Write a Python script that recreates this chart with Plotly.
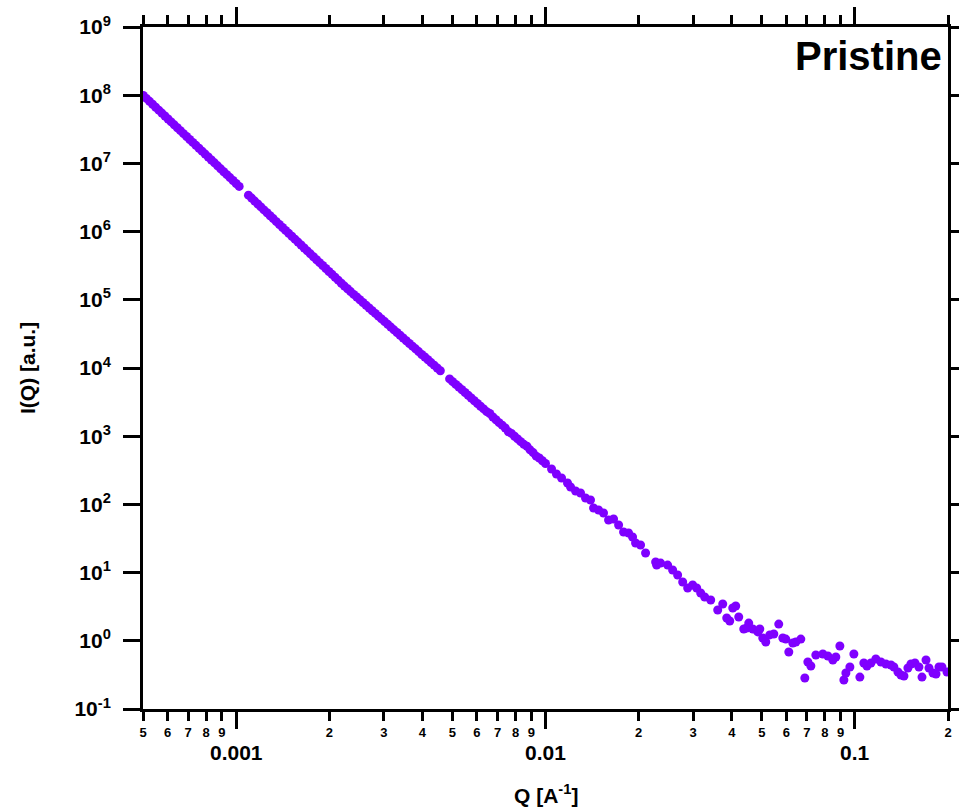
import math
import plotly.graph_objects as go

# ---- data (Q in 1/A, I in a.u.) ----
q_values = [
    5.012e-4, 5.129e-4, 5.248e-4, 5.370e-4, 5.495e-4, 5.623e-4, 5.754e-4, 5.888e-4,
    6.026e-4, 6.166e-4, 6.310e-4, 6.457e-4, 6.607e-4, 6.761e-4, 6.918e-4, 7.079e-4,
    7.244e-4, 7.413e-4, 7.586e-4, 7.762e-4, 7.943e-4, 8.128e-4, 8.318e-4, 8.511e-4,
    8.710e-4, 8.913e-4, 9.120e-4, 9.333e-4, 9.550e-4, 9.772e-4, 1.000e-3, 1.023e-3,
    1.096e-3, 1.122e-3, 1.148e-3, 1.175e-3, 1.202e-3, 1.230e-3, 1.259e-3, 1.288e-3,
    1.318e-3, 1.349e-3, 1.380e-3, 1.413e-3, 1.445e-3, 1.479e-3, 1.514e-3, 1.549e-3,
    1.585e-3, 1.622e-3, 1.660e-3, 1.698e-3, 1.738e-3, 1.778e-3, 1.820e-3, 1.862e-3,
    1.905e-3, 1.950e-3, 1.995e-3, 2.042e-3, 2.089e-3, 2.138e-3, 2.188e-3, 2.239e-3,
    2.291e-3, 2.344e-3, 2.399e-3, 2.455e-3, 2.512e-3, 2.570e-3, 2.630e-3, 2.692e-3,
    2.754e-3, 2.818e-3, 2.884e-3, 2.951e-3, 3.020e-3, 3.090e-3, 3.162e-3, 3.236e-3,
    3.311e-3, 3.388e-3, 3.467e-3, 3.548e-3, 3.631e-3, 3.715e-3, 3.802e-3, 3.890e-3,
    3.981e-3, 4.074e-3, 4.169e-3, 4.266e-3, 4.365e-3, 4.467e-3, 4.571e-3,
    4.898e-3, 5.012e-3, 5.129e-3, 5.248e-3, 5.370e-3, 5.495e-3, 5.623e-3, 5.754e-3,
    5.888e-3, 6.026e-3, 6.166e-3, 6.310e-3, 6.457e-3, 6.607e-3, 6.761e-3, 6.918e-3,
    7.079e-3, 7.244e-3, 7.413e-3, 7.586e-3, 7.762e-3, 7.943e-3, 8.128e-3, 8.318e-3,
    8.511e-3, 8.710e-3, 8.913e-3, 9.120e-3, 9.333e-3, 9.550e-3, 9.772e-3, 1.000e-2,
    0.01046, 0.01085, 0.01127, 0.01178, 0.01205, 0.01251, 0.01298, 0.01347, 0.01398,
    0.01430, 0.01484, 0.01540, 0.01599, 0.01660, 0.01723, 0.01788, 0.01856, 0.01912,
    0.01955, 0.02029, 0.02106, 0.02270, 0.02287, 0.02356, 0.02482, 0.02576, 0.02674,
    0.02776, 0.02881, 0.02990, 0.03081, 0.03174, 0.03270, 0.03420, 0.03603, 0.03740,
    0.03853, 0.03940, 0.04029, 0.04120, 0.04213, 0.04373, 0.04472, 0.04539, 0.04677,
    0.04855, 0.04928, 0.05039, 0.05152, 0.05308, 0.05470, 0.05675, 0.05848, 0.05980,
    0.06115, 0.06301, 0.06443, 0.06688, 0.06891, 0.07047, 0.07206, 0.07479, 0.07878,
    0.08177, 0.08487, 0.08679, 0.08943, 0.09214, 0.09353, 0.09636, 0.09926, 0.1038,
    0.1069, 0.1094, 0.1127, 0.1169, 0.1214, 0.1260, 0.1308, 0.1337, 0.1378, 0.1409,
    0.1441, 0.1484, 0.1518, 0.1564, 0.1611, 0.1648, 0.1698, 0.1736, 0.1789, 0.1829,
    0.1870, 0.1912, 0.1985,
]

i_values = [
    9.90e7, 8.97e7, 8.12e7, 7.36e7, 6.66e7, 6.03e7, 5.47e7, 4.95e7,
    4.48e7, 4.06e7, 3.68e7, 3.33e7, 3.02e7, 2.73e7, 2.48e7, 2.24e7,
    2.03e7, 1.84e7, 1.67e7, 1.51e7, 1.37e7, 1.24e7, 1.12e7, 1.02e7,
    9.20e6, 8.33e6, 7.55e6, 6.83e6, 6.19e6, 5.61e6, 5.08e6, 4.60e6,
    3.42e6, 3.10e6, 2.80e6, 2.54e6, 2.30e6, 2.08e6, 1.89e6, 1.71e6,
    1.55e6, 1.40e6, 1.27e6, 1.15e6, 1.04e6, 9.43e5, 8.55e5, 7.74e5,
    7.01e5, 6.35e5, 5.75e5, 5.21e5, 4.72e5, 4.27e5, 3.87e5, 3.50e5,
    3.18e5, 2.88e5, 2.60e5, 2.36e5, 2.14e5, 1.94e5, 1.75e5, 1.59e5,
    1.45e5, 1.32e5, 1.20e5, 1.10e5, 1.00e5, 9.12e4, 8.32e4, 7.59e4,
    6.92e4, 6.31e4, 5.75e4, 5.25e4, 4.79e4, 4.37e4, 3.98e4, 3.63e4,
    3.31e4, 3.02e4, 2.75e4, 2.51e4, 2.29e4, 2.09e4, 1.91e4, 1.74e4,
    1.58e4, 1.45e4, 1.32e4, 1.20e4, 1.10e4, 1.00e4, 9.12e3,
    6.92e3, 6.31e3, 5.75e3, 5.25e3, 4.79e3, 4.37e3, 3.98e3, 3.63e3,
    3.31e3, 3.02e3, 2.75e3, 2.51e3, 2.29e3, 2.15e3, 1.91e3, 1.74e3,
    1.58e3, 1.45e3, 1.32e3, 1.16e3, 1.10e3, 1.00e3, 912, 832,
    759, 712, 631, 575, 510, 479, 437, 398,
    330, 279, 244, 206, 180, 157, 147, 124, 116,
    88.5, 82.8, 74.8, 59.0, 61.1, 49.9, 39.4, 38.1, 33.3,
    27.2, 25.4, 19.4, 14.3, 12.9, 13.8, 12.9, 10.9, 9.23,
    7.28, 5.94, 6.58, 5.94, 5.02, 4.39, 3.96, 2.83, 3.47,
    2.16, 1.95, 3.03, 3.24, 2.23, 1.49, 1.54, 1.82, 1.49,
    1.35, 1.49, 1.10, 0.960, 1.22, 1.26, 1.76, 1.10, 1.06,
    0.685, 0.929, 0.960, 1.06, 0.285, 0.489, 0.427, 0.619, 0.640,
    0.598, 0.523, 0.578, 0.839, 0.266, 0.337, 0.413, 0.640, 0.294,
    0.472, 0.427, 0.472, 0.541, 0.489, 0.457, 0.442, 0.413, 0.349, 0.315,
    0.305, 0.399, 0.457, 0.472, 0.413, 0.294, 0.523, 0.399, 0.337, 0.326,
    0.413, 0.413, 0.349,
]

x_minor_ticks = [5e-4, 6e-4, 7e-4, 8e-4, 9e-4,
                 2e-3, 3e-3, 4e-3, 5e-3, 6e-3, 7e-3, 8e-3, 9e-3,
                 2e-2, 3e-2, 4e-2, 5e-2, 6e-2, 7e-2, 8e-2, 9e-2, 0.2]
x_minor_labels = ["5", "6", "7", "8", "9",
                  "2", "3", "4", "5", "6", "7", "8", "9",
                  "2", "3", "4", "5", "6", "7", "8", "9", "2"]
x_decades = [0.001, 0.01, 0.1]
x_decade_labels = ["0.001", "0.01", "0.1"]

y_ticks = [1e-1, 1e0, 1e1, 1e2, 1e3, 1e4, 1e5, 1e6, 1e7, 1e8, 1e9]
y_labels = ["10<sup>-1</sup>", "10<sup>0</sup>", "10<sup>1</sup>", "10<sup>2</sup>",
            "10<sup>3</sup>", "10<sup>4</sup>", "10<sup>5</sup>", "10<sup>6</sup>",
            "10<sup>7</sup>", "10<sup>8</sup>", "10<sup>9</sup>"]

FONT = "Liberation Sans, Arial, sans-serif"
PURPLE = "#7f00ff"

fig = go.Figure()
fig.add_trace(go.Scatter(
    x=q_values, y=i_values, mode="markers",
    marker=dict(color=PURPLE, size=9, line=dict(width=0)),
    showlegend=False,
))

fig.update_layout(
    width=959, height=811,
    margin=dict(l=143, r=11, t=27, b=102, autoexpand=False),
    paper_bgcolor="white", plot_bgcolor="white",
    font=dict(family=FONT, color="black"),
    xaxis=dict(
        type="log", range=[math.log10(5e-4), math.log10(0.2)],
        automargin=False,
        showline=True, linewidth=3, linecolor="black", mirror="ticks",
        showgrid=False, zeroline=False,
        tickmode="array", tickvals=x_minor_ticks, ticktext=x_minor_labels,
        ticks="outside", ticklen=9, tickwidth=3, tickcolor="black",
        tickfont=dict(family=FONT, size=13, color="black", weight="bold"),
        ticklabelstandoff=0,
        minor=dict(tickmode="array", tickvals=x_decades, ticks="outside",
                   ticklen=17, tickwidth=3, tickcolor="black", showgrid=False),
    ),
    yaxis=dict(
        type="log", range=[-1, 9],
        automargin=False,
        showline=True, linewidth=3, linecolor="black", mirror="ticks",
        showgrid=False, zeroline=False,
        tickmode="array", tickvals=y_ticks, ticktext=y_labels,
        ticks="outside", ticklen=17, tickwidth=3, tickcolor="black",
        tickfont=dict(family=FONT, size=21, color="black", weight="bold"),
        ticklabelstandoff=8,
    ),
)

annotations = []
for v, lab in zip(x_decades, x_decade_labels):
    annotations.append(dict(
        x=math.log10(v), xref="x", y=0, yref="paper", yanchor="middle",
        yshift=-43, text=lab, showarrow=False,
        font=dict(family=FONT, size=21, color="black", weight="bold"),
    ))
annotations.append(dict(
    x=0.5, xref="paper", y=0, yref="paper", yanchor="middle", yshift=-85,
    text="Q [A<sup>-1</sup>]", showarrow=False,
    font=dict(family=FONT, size=21, color="black", weight="bold"),
))
annotations.append(dict(
    x=0, xref="paper", y=0.5, yref="paper", xanchor="center", yanchor="middle",
    xshift=-116, text="I(Q) [a.u.]", textangle=-90, showarrow=False,
    font=dict(family=FONT, size=21, color="black", weight="bold"),
))
annotations.append(dict(
    x=1, xref="paper", y=1, yref="paper", xanchor="right", yanchor="middle",
    xshift=-4, yshift=-29, text="Pristine", showarrow=False,
    font=dict(family=FONT, size=40, color="black", weight="bold"),
))
fig.update_layout(annotations=annotations)

fig.write_html("out.html")
